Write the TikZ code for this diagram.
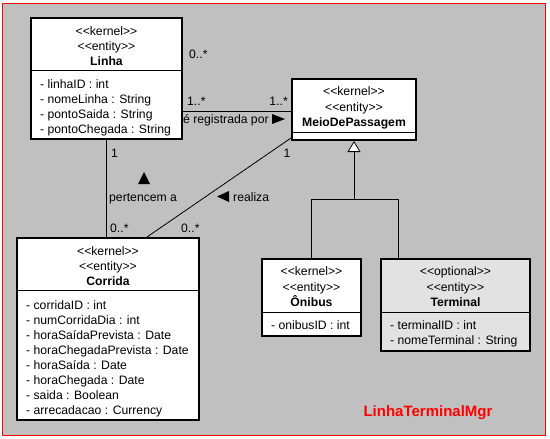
\documentclass[tikz,border=0pt]{standalone}
\usepackage{fontspec}
\setmainfont{Liberation Sans}
\usetikzlibrary{arrows.meta}
\definecolor{bg}{RGB}{192,192,192}
\definecolor{optfill}{RGB}{226,226,226}
\newcommand\stl{<\kern0pt<}
\newcommand\stg{>\kern0pt>}
\begin{document}
\begin{tikzpicture}[x=1pt,y=-1pt,
  cls/.style={draw=black, line width=2pt, fill=white, inner sep=0pt},
  sepline/.style={draw=black, line width=1pt},
  txt/.style={inner sep=0pt, font=\fontsize{12.2}{14}\selectfont},
  st/.style={txt, anchor=base},
  ttl/.style={txt, anchor=base, font=\fontsize{12.2}{14}\selectfont\bfseries},
  attr/.style={txt, anchor=base west},
  lbl/.style={txt, anchor=base west},
  conn/.style={draw=black, line width=0.8pt},
  dirtri/.style={fill=black, draw=none}
]
\useasboundingbox (0,0) rectangle (550,439);
\fill[white] (0,0) rectangle (550,439);
\draw[red, fill=bg, line width=1pt] (2,3) rectangle (545,435);

% ---------- classes ----------
\node[cls, minimum width=151pt, minimum height=121pt] (linha) at (106.5,78.5) {};
\draw[sepline] ([yshift=-53pt]linha.north west) -- ([yshift=-53pt]linha.north east);
\node[st]  (linhaK) at (106.5,35) {\stl kernel\stg};
\node[st]  (linhaE) at (106.5,50) {\stl entity\stg};
\node[ttl] (linhaT) at (106.5,65) {Linha};
\node[attr] (la1) at (40,88)  {- linhaID : int};
\node[attr] (la2) at (40,103) {- nomeLinha : String};
\node[attr] (la3) at (40,118) {- pontoSaida : String};
\node[attr] (la4) at (40,133) {- pontoChegada : String};

\node[cls, minimum width=124pt, minimum height=61pt] (meio) at (354,109.5) {};
\draw[sepline] ([yshift=-54pt]meio.north west) -- ([yshift=-54pt]meio.north east);
\node[st]  (meioK) at (354,95)  {\stl kernel\stg};
\node[st]  (meioE) at (354,111) {\stl entity\stg};
\node[ttl] (meioT) at (354,126) {MeioDePassagem};

\node[cls, minimum width=182pt, minimum height=182pt] (corrida) at (108,329) {};
\draw[sepline] ([yshift=-53pt]corrida.north west) -- ([yshift=-53pt]corrida.north east);
\node[st]  (corK) at (108,255) {\stl kernel\stg};
\node[st]  (corE) at (108,270) {\stl entity\stg};
\node[ttl] (corT) at (108,285) {Corrida};
\node[attr] (ca1) at (26,309) {- corridaID : int};
\node[attr] (ca2) at (26,324) {- numCorridaDia : int};
\node[attr] (ca3) at (26,339) {- horaSaídaPrevista : Date};
\node[attr] (ca4) at (26,354) {- horaChegadaPrevista : Date};
\node[attr] (ca5) at (26,369) {- horaSaída : Date};
\node[attr] (ca6) at (26,384) {- horaChegada : Date};
\node[attr] (ca7) at (26,399) {- saida : Boolean};
\node[attr] (ca8) at (26,414) {- arrecadacao : Currency};

\node[cls, minimum width=99pt, minimum height=77pt] (onibus) at (311.5,297.5) {};
\draw[sepline] ([yshift=-54pt]onibus.north west) -- ([yshift=-54pt]onibus.north east);
\node[st]  (onK) at (311.5,275) {\stl kernel\stg};
\node[st]  (onE) at (311.5,291) {\stl entity\stg};
\node[ttl] (onT) at (311.5,306) {Ônibus};
\node[attr] (oa1) at (271,329) {- onibusID : int};

\node[cls, fill=optfill, minimum width=149pt, minimum height=92pt] (terminal) at (455.5,305) {};
\draw[sepline] ([yshift=-54pt]terminal.north west) -- ([yshift=-54pt]terminal.north east);
\node[st]  (teK) at (455.5,275) {\stl optional\stg};
\node[st]  (teE) at (455.5,291) {\stl entity\stg};
\node[ttl] (teT) at (455.5,306) {Terminal};
\node[attr] (ta1) at (390,329) {- terminalID : int};
\node[attr] (ta2) at (390,344) {- nomeTerminal : String};

% ---------- generalization ----------
\coordinate (gj) at (354,199);
\draw[conn] (onibus.north) |- (gj);
\draw[conn] ([xshift=18pt]terminal.north west) |- (gj);
\draw[conn, -{Triangle[length=11pt,width=13pt,fill=white,line width=0.8pt]}] (gj) -- (meio.south);

% ---------- associations ----------
\coordinate (a1) at (0,111);
\draw[conn] (linha.east |- a1) -- (meio.west |- a1);
\draw[conn] (linha.south) -- (linha.south |- corrida.north);
\draw[conn] ([yshift=3pt]meio.south west) -- ([xshift=131pt]corrida.north west);

% ---------- labels ----------
\node[lbl] (m0) at (189,59) {0..*};
\node[lbl] (m1) at (187,105) {1..*};
\node[txt, anchor=base east] (m2) at (288,105) {1..*};
\node[lbl] (r1) at (183,123) {é registrada por};
\fill[dirtri] (272,114) -- (285,119) -- (272,124) -- cycle;

\node[lbl] (m3) at (111,157) {1};
\node[lbl] (r2) at (109,201) {pertencem a};
\fill[dirtri] (138,184) -- (144,172) -- (150,184) -- cycle;
\node[lbl] (m4) at (110,232) {0..*};

\node[txt, anchor=base] (m5) at (287,157) {1};
\node[lbl] (m6) at (181,232) {0..*};
\node[lbl] (r3) at (233,201) {realiza};
\fill[dirtri] (229,191) -- (217,196.5) -- (229,202) -- cycle;

\node[txt, anchor=base, text=red, font=\fontsize{15}{17}\selectfont\bfseries] (pkg) at (428,416) {LinhaTerminalMgr};
\end{tikzpicture}
\end{document}
